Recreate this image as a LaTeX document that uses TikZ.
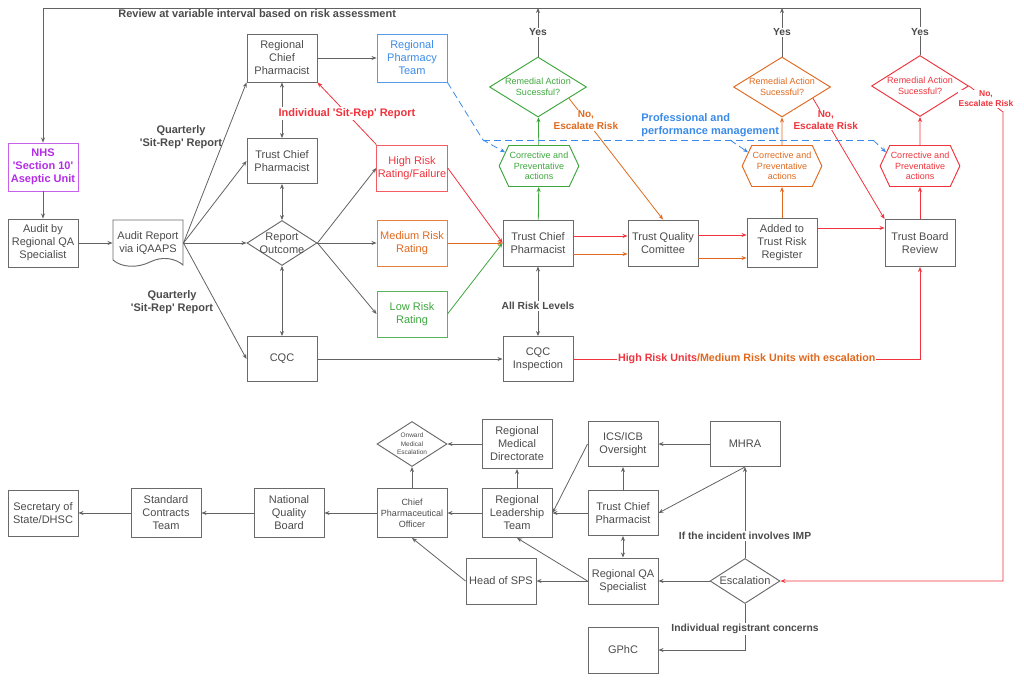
\documentclass[tikz,border=0pt]{standalone}
\usepackage{fontspec}
\setmainfont{Liberation Sans}[Ligatures=TeXOff]
\usetikzlibrary{arrows.meta,shapes.geometric,shapes.symbols,calc}
\definecolor{boxgray}{HTML}{6A6A6A}
\definecolor{txtgray}{HTML}{4B4B4B}
\definecolor{lingray}{HTML}{626262}
\definecolor{rgreen}{HTML}{3DA63D}
\definecolor{rorange}{HTML}{E0691F}
\definecolor{rred}{HTML}{F0333C}
\definecolor{rblue}{HTML}{3A8BE8}
\definecolor{rpurple}{HTML}{B42DE6}

\begin{document}
\begin{tikzpicture}[x=1pt,y=-1pt,line width=0.8pt,
    box/.style={draw=boxgray,line width=0.95pt,text=txtgray,minimum width=70,minimum height=46,inner sep=1pt,align=center,font=\fontsize{11}{13}\selectfont},
    dia/.style={box,diamond,inner sep=-8pt,minimum height=45},
    hex/.style={box,signal,signal to=east and west,signal pointer angle=130,minimum width=75,minimum height=41,font=\fontsize{9}{10.5}\selectfont},
    remed/.style={dia,minimum width=97,minimum height=60,font=\fontsize{9}{10.5}\selectfont},
    lab/.style={text=txtgray,align=center,inner sep=1pt,font=\fontsize{10.3}{12}\selectfont\bfseries},
    biglab/.style={lab,font=\fontsize{11}{13}\selectfont\bfseries},
    onlab/.style={lab,fill=white},
    arr/.style={draw=lingray,-{Stealth[length=5pt,width=4pt]}},
    arrs/.style={draw=lingray,{Stealth[length=5pt,width=4pt]}-{Stealth[length=5pt,width=4pt]}},
    pm/.style={draw=rblue,dash pattern=on 7pt off 4pt}]
    \useasboundingbox (0,0) rectangle (1024,680);

    % upper part
    \node[box,draw=rpurple!75,text=rpurple,minimum height=48,font=\fontsize{11}{13}\selectfont\bfseries] (nhs) at (43,167) {NHS\\'Section 10'\\Aseptic Unit};
    \node[box,minimum height=48] (audit) at (43,243) {Audit by\\Regional QA\\Specialist};
    \node[box,draw=none] (rep) at (148,243) {Audit Report\\via iQAAPS};
    \draw[draw=boxgray,line width=0.95pt] (113,220) -- (183,220) -- (183,265) .. controls (175,258) and (162,256) .. (150,262) .. controls (138,268) and (122,268) .. (113,260) -- cycle;
    \node[box,minimum height=48] (rcp) at (282,58) {Regional\\Chief\\Pharmacist};
    \node[box,draw=rblue!85,text=rblue,minimum height=48] (rpt) at (412,58) {Regional\\Pharmacy\\Team};
    \node[box,minimum height=45] (tcpa) at (282,161) {Trust Chief\\Pharmacist};
    \node[dia] (outc) at (282,243) {Report\\Outcome};
    \node[box,minimum height=45] (cqc) at (282,359) {CQC};
    \node[box,draw=rred!80,text=rred] (high) at (412,168) {High Risk\\Rating/Failure};
    \node[box,draw=rorange!85,text=rorange] (med) at (412,243) {Medium Risk\\Rating};
    \node[box,draw=rgreen!85,text=rgreen] (low) at (412,314) {Low Risk\\Rating};
    \node[box] (tcpb) at (538,243) {Trust Chief\\Pharmacist};
    \node[hex,draw=rgreen,text=rgreen] (hexg) at (539,166) {Corrective and\\Preventative\\actions};
    \node[remed,draw=rgreen,text=rgreen] (diag) at (538,87) {Remedial Action\\Sucessful?};
    \node[box] (tqc) at (663,243) {Trust Quality\\Comittee};
    \node[box,minimum height=49] (trr) at (782,243) {Added to\\Trust Risk\\Register};
    \node[hex,draw=rorange,text=rorange] (hexo) at (782,166) {Corrective and\\Preventative\\actions};
    \node[remed,draw=rorange,text=rorange] (diao) at (782,87) {Remedial Action\\Sucessful?};
    \node[box,minimum height=47] (tbr) at (920,243) {Trust Board\\Review};
    \node[hex,draw=rred,text=rred] (hexr) at (920,166) {Corrective and\\Preventative\\actions};
    \node[remed,draw=rred,text=rred,minimum height=61] (diar) at (920,86) {Remedial Action\\Sucessful?};
    \node[box,minimum height=45] (cqci) at (538,359) {CQC\\Inspection};

    % lower part
    \node[box,minimum height=45] (mhra) at (745,444) {MHRA};
    \node[box,minimum height=45] (ics) at (623,444) {ICS/ICB\\Oversight};
    \node[box,minimum height=49] (rmd) at (517,444) {Regional\\Medical\\Directorate};
    \node[dia,font=\fontsize{6.5}{8.5}\selectfont] (onw) at (412,444) {Onward\\Medical\\Escalation};
    \node[box,minimum height=45] (tcpc) at (623,513) {Trust Chief\\Pharmacist};
    \node[box,minimum height=49] (rlt) at (517,513) {Regional\\Leadership\\Team};
    \node[box,minimum height=49,font=\fontsize{9}{11}\selectfont] (cpo) at (412,513) {Chief\\Pharmaceutical\\Officer};
    \node[box,minimum height=49] (nqb) at (289,513) {National\\Quality\\Board};
    \node[box,minimum height=49] (sct) at (166,513) {Standard\\Contracts\\Team};
    \node[box] (sos) at (43,513) {Secretary of\\State/DHSC};
    \node[box] (sps) at (501,581) {Head of SPS};
    \node[box] (rqa) at (623,581) {Regional QA\\Specialist};
    \node[dia] (esc) at (745,581) {Escalation};
    \node[box] (gphc) at (623,650) {GPhC};

    \coordinate (topl) at (43,8);
    \coordinate (topg) at (538,8);
    \coordinate (topo) at (782,8);
    \coordinate (topr) at (920,8);
    \coordinate (pm1) at (483,140);
    \coordinate (pm2) at (730,140);
    \coordinate (pm3) at (873,140);
    \coordinate (cqcr) at (920,359);
    \coordinate (esca) at (1003,112);
    \coordinate (escb) at (1003,581);
    \coordinate (gph) at (745,650);

    % review loop
    \draw[arr] (diar) -- node[onlab]{Yes} (topr) -- (topl) -- (nhs);
    \node[biglab,anchor=west] (rev) at (117,14) {Review at variable interval based on risk assessment};
    \draw[arr] (diag) -- node[onlab]{Yes} (topg);
    \draw[arr] (diao) -- node[onlab]{Yes} (topo);

    % audit
    \draw[arr] (nhs) -- (audit);
    \draw[arr] (audit) -- (rep);
    \foreach \t in {rcp.south west,tcpa.west,outc.west,cqc.west}
        \draw[arr] (rep.east) -- (\t);
    \node[biglab] at (181,137) {Quarterly\\'Sit-Rep' Report};
    \node[biglab] at (172,302) {Quarterly\\'Sit-Rep' Report};
    \draw[arr] (rcp) -- (rpt);
    \draw[arrs] (rcp) -- (tcpa);
    \draw[arrs] (tcpa) -- (outc);
    \draw[arrs] (outc) -- (cqc);
    \foreach \t in {high.west,med.west,low.west}
        \draw[arr] (outc.east) -- (\t);
    \draw[arr,draw=rred] (high.north west) -- node[onlab,biglab,fill=white,text=rred]{Individual 'Sit-Rep' Report} (rcp.south east);

    % risk ratings
    \draw[arr,draw=rred] (high.east) -- (tcpb.west);
    \draw[arr,draw=rorange] (med) -- (tcpb);
    \draw[arr,draw=rgreen] (low.east) -- (tcpb.west);
    \draw[arr,draw=rgreen] (tcpb) -- (hexg);
    \draw[arr,draw=rgreen] (hexg) -- (diag);
    \draw[arr,draw=rorange] (diag.-20) -- node[onlab,pos=.18,text=rorange,font=\fontsize{10}{12}\selectfont\bfseries]{No,\\Escalate Risk} (tqc.north);
    \draw[arr,draw=rred] ($(tcpb.east)+(0,-7)$) -- ($(tqc.west)+(0,-7)$);
    \draw[arr,draw=rorange] ($(tcpb.east)+(0,11)$) -- ($(tqc.west)+(0,11)$);
    \draw[arr,draw=rred] ($(tqc.east)+(0,-8)$) -- ($(trr.west)+(0,-8)$);
    \draw[arr,draw=rorange] ($(tqc.east)+(0,15)$) -- ($(trr.west)+(0,15)$);
    \draw[arr,draw=rred] ($(trr.east)+(0,-15)$) -- ($(tbr.west)+(0,-15)$);
    \draw[arr,draw=rorange] (trr) -- (hexo);
    \draw[arr,draw=rorange] (hexo) -- (diao);
    \draw[arr,draw=rred] (diao.-20) -- node[onlab,pos=.18,text=rred,font=\fontsize{10}{12}\selectfont\bfseries]{No,\\Escalate Risk} (tbr.north west);
    \draw[arr,draw=rred] (tbr) -- (hexr);
    \draw[arr,draw=rred] (hexr) -- (diar);
    \draw[arr,draw=rred] (diar.east) -- node[onlab,text=rred,font=\fontsize{8.5}{10}\selectfont\bfseries]{No,\\Escalate Risk} (esca) -- (escb) -- (esc.east);

    % professional and performance management
    \draw[arr,pm] (rpt.south east) -- (pm1) -- (hexg.158);
    \draw[pm] (pm1) -- (pm3);
    \draw[arr,pm] (pm2) -- (hexo.158);
    \draw[arr,pm] (pm3) -- (hexr.158);
    \node[biglab,text=rblue,align=left,anchor=west] at (640,125) {Professional and\\performance management};

    % inspection
    \draw[arrs] (tcpb) -- node[onlab,pos=.57]{All Risk Levels} (cqci);
    \draw[arr] (cqc) -- (cqci);
    \draw[arr,draw=rred] (cqci.east) -- node[onlab,font=\fontsize{10.7}{12}\selectfont\bfseries]{\textcolor{rred}{High Risk Units}\textcolor{rorange}{/Medium Risk Units with escalation}} (cqcr) -- (tbr.south);

    % escalation
    \draw[arr] (mhra) -- (ics);
    \draw[arr] (ics.west) -- (rlt.east);
    \draw[arr] (tcpc) -- (ics);
    \draw[arr] (tcpc) -- (rlt);
    \draw[arr] (rlt) -- (rmd);
    \draw[arr] (rmd) -- (onw);
    \draw[arr] (cpo) -- (onw);
    \foreach \a/\b in {rlt/cpo,cpo/nqb,nqb/sct,sct/sos}
        \draw[arr] (\a) -- (\b);
    \draw[arr] (mhra.south) -- (tcpc.east);
    \draw[arrs] (tcpc) -- (rqa);
    \draw[arr] (esc) -- (rqa);
    \draw[arr] (rqa) -- (sps);
    \draw[arr] (rqa.west) -- (rlt.south);
    \draw[arr] (sps.west) -- (cpo.south);
    \draw[arr] (esc) -- node[onlab,pos=.24]{If the incident involves IMP} (mhra);
    \draw[arr] (esc.south) -- node[onlab,pos=.55]{Individual registrant concerns} (gph) -- (gphc.east);
\end{tikzpicture}
\end{document}
